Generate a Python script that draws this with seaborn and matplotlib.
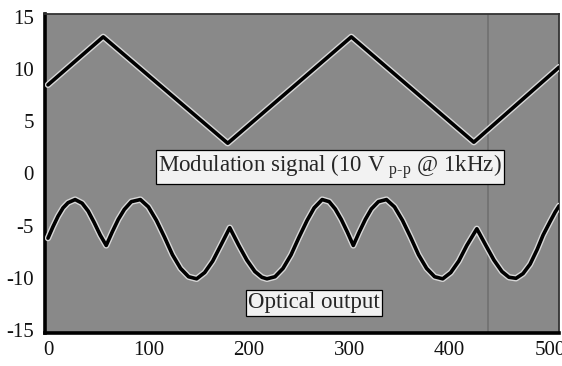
import pandas as pd
import seaborn as sns
import matplotlib.pyplot as plt
import matplotlib.patheffects as pe


# modulation signal (triangle), vertices
mod_x = [0, 55, 179, 302, 424, 509]
mod_y = [8.5, 13.1, 2.9, 13.1, 3.0, 10.2]

# optical output trace
opt_x = [0, 5, 10, 15, 20, 27, 34, 40, 46, 52, 58, 64, 70, 76, 83, 92,
         100, 108, 116, 124, 132, 140, 148, 156, 164, 172, 181, 190, 198,
         206, 213, 218, 226, 234, 242, 250, 258, 265, 273, 280, 286, 292,
         298, 304, 310, 316, 322, 329, 337, 345, 353, 361, 369, 377, 385,
         393, 401, 409, 417, 427, 436, 444, 452, 459, 466, 473, 480, 487,
         493, 500, 505, 509]
opt_y = [-6.2, -5.1, -4.1, -3.3, -2.8, -2.5, -2.85, -3.6, -4.7, -5.9, -6.9,
         -5.6, -4.4, -3.45, -2.7, -2.5, -3.2, -4.5, -6.1, -7.8, -9.1, -9.9,
         -10.1, -9.5, -8.4, -6.9, -5.2, -6.9, -8.3, -9.4, -9.95, -10.1,
         -9.9, -9.1, -7.8, -6.1, -4.5, -3.3, -2.5, -2.7, -3.4, -4.4, -5.6,
         -6.9, -5.6, -4.4, -3.4, -2.7, -2.5, -3.2, -4.5, -6.1, -7.8, -9.1,
         -9.9, -10.1, -9.5, -8.4, -6.9, -5.3, -6.9, -8.3, -9.4, -9.95,
         -10.05, -9.6, -8.7, -7.3, -5.9, -4.6, -3.7, -3.1]

x_ticks = [0, 100, 200, 300, 400, 500]
y_ticks = [-15, -10, -5, 0, 5, 10, 15]

mod_label = r'Modulation signal (10 V$_{\ \text{p-p}}$ @ 1kHz)'
opt_label = 'Optical output'

# faint scan artefact (darker vertical band)
ARTEFACT_X = 438

sns.set_theme(style='white')
plt.rcParams['font.family'] = ['Liberation Serif', 'DejaVu Serif']
plt.rcParams['mathtext.fontset'] = 'custom'
plt.rcParams['mathtext.rm'] = 'Liberation Serif'
plt.rcParams['axes.unicode_minus'] = False

fig = plt.figure(figsize=(5.62, 3.66), dpi=100)
ax = fig.add_axes([0.080, 0.090, 0.915, 0.872])
ax.set_facecolor('#898989')

ax.axvline(ARTEFACT_X, color='#707070', lw=1.2, zorder=1)

halo = [pe.withStroke(linewidth=4.6, foreground='#d8d8d8')]
mod_df = pd.DataFrame({'x': mod_x, 'y': mod_y})
opt_df = pd.DataFrame({'x': opt_x, 'y': opt_y})
sns.lineplot(data=mod_df, x='x', y='y', ax=ax, color='black', lw=2.6,
             estimator=None, sort=False, path_effects=halo, zorder=3)
sns.lineplot(data=opt_df, x='x', y='y', ax=ax, color='black', lw=2.6,
             estimator=None, sort=False, path_effects=halo, zorder=3)

box = dict(boxstyle='square,pad=0.1', facecolor='#f2f2f2',
           edgecolor='black', lw=0.9)
ax.text(281, 0.6, mod_label, ha='center', va='center', fontsize=16.5,
        bbox=box, zorder=4)
ax.text(265, -12.4, opt_label, ha='center', va='center', fontsize=16.5,
        bbox=box, zorder=4)

ax.set_xlim(-3, 509)
ax.set_ylim(-15.3, 15.3)
ax.set_xticks(x_ticks)
ax.set_yticks(y_ticks)
ax.set_xlabel('')
ax.set_ylabel('')
ax.tick_params(length=0, labelsize=15, colors='#111111')
ax.tick_params(axis='y', pad=8)
ax.tick_params(axis='x', pad=6)

for side in ['left', 'bottom']:
    ax.spines[side].set_linewidth(2.6)
    ax.spines[side].set_color('black')
for side in ['top', 'right']:
    ax.spines[side].set_linewidth(1.3)
    ax.spines[side].set_color('#333333')

fig.savefig('out.png', dpi=100)
